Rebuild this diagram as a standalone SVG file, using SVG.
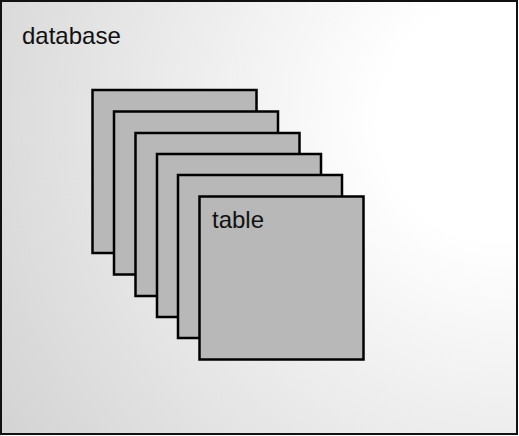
<svg xmlns="http://www.w3.org/2000/svg" width="519" height="436" viewBox="0 0 519 436">
  <defs>
    <radialGradient id="dbFill" gradientUnits="userSpaceOnUse" cx="500" cy="120" r="600">
      <stop offset="0.2" stop-color="#ffffff"/>
      <stop offset="1" stop-color="#d2d2d2"/>
    </radialGradient>
  </defs>
  <style>
    .label { font-family: "Liberation Sans", Arial, sans-serif; font-size: 24px; fill: #111111; }
    .table { fill: #b8b8b8; stroke: #000000; stroke-width: 2.5; }
  </style>
  <g id="database">
    <rect x="1" y="1" width="516" height="433" fill="url(#dbFill)" stroke="#111111" stroke-width="2"/>
    <text class="label" x="22" y="44">database</text>
  </g>
  <g id="tables">
    <rect id="table-1" class="table" x="92.5" y="90" width="164" height="163"/>
    <rect id="table-2" class="table" x="114" y="111.5" width="164" height="163"/>
    <rect id="table-3" class="table" x="135.5" y="133" width="164" height="163"/>
    <rect id="table-4" class="table" x="157" y="154" width="164" height="163"/>
    <rect id="table-5" class="table" x="178" y="175" width="164" height="163"/>
    <g id="table-6">
      <rect class="table" x="199.5" y="196.5" width="164" height="163"/>
      <text class="label" x="212" y="228">table</text>
    </g>
  </g>
  <g id="connectors"/>
</svg>
